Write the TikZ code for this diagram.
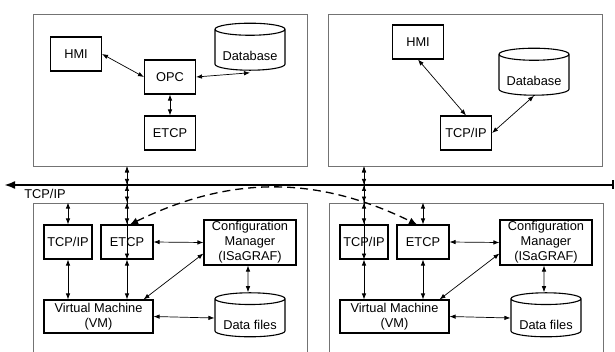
\documentclass[tikz,border=0pt]{standalone}
\usepackage{fontspec}
\setmainfont{Liberation Sans}
\usetikzlibrary{shapes.geometric,arrows.meta}

\newcommand{\drumtext}[1]{\raisebox{-11pt}[0pt][0pt]{#1}}

\tikzset{
	panel/.style={draw=black!55, line width=0.8pt, minimum width=274pt, inner sep=0pt},
	box/.style={draw, line width=1.1pt, align=center, inner sep=0pt, minimum width=51pt, minimum height=34pt},
	drum/.style={draw, line width=1.1pt, cylinder, shape border rotate=90, aspect=0.22, inner sep=0pt, minimum width=70pt, minimum height=47pt},
	link/.style={{Latex[length=6pt,width=4.5pt]}-{Latex[length=6pt,width=4.5pt]}, line width=0.7pt},
	bus/.style={line width=2.2pt, {Bar[width=9pt]}-{Latex[length=11pt,width=8pt]}}
}

\begin{document}
\begin{tikzpicture}[x=1pt, y=-1pt, font=\fontsize{12.8}{15}\selectfont]
		\useasboundingbox (0,0) rectangle (615,352);

		% upper stations
		\node[panel, minimum height=152pt] (opL) at (170,90) {};
		\node[panel, minimum height=152pt] (opR) at (465.5,90) {};
		\node[box] (hmiL) at (76,54) {HMI};
		\node[box] (opc) at (170,77) {OPC};
		\node[drum] (dbL) at (250,50) {\drumtext{Database}};
		\node[box] (etcpL) at (170,133) {ETCP};
		\node[box] (hmiR) at (418,42) {HMI};
		\node[drum] (dbR) at (534,75) {\drumtext{Database}};
		\node[box] (tcpR) at (466,133) {TCP/IP};

		\draw[link] (hmiL.east) -- (opc.west);
		\draw[link] (opc.east) -- ([yshift=-2pt]dbL.south);
		\draw[link] (opc.south) -- (etcpL.north);
		\draw[link] (hmiR.south) -- (tcpR.north);
		\draw[link] (dbR.south) -- (tcpR.east);

		% network
		\coordinate (busE) at (614,185);
		\coordinate (busW) at (4,185);
		\draw[bus] (busE) -- (busW);
		\node (net) at (45,194) {TCP/IP};

		% lower controllers
		\node[panel, minimum height=160pt] (ctL) at (170,283) {};
		\node[panel, minimum height=160pt] (ctR) at (466,283) {};
		\foreach \s/\dx in {L/0, R/296} {
			\node[box, minimum width=48pt] (tcp\s) at (68+\dx,242) {TCP/IP};
			\node[box, minimum width=52pt] (etcp\s) at (127+\dx,242) {ETCP};
			\node[box, minimum width=92pt, minimum height=45pt] (cfg\s) at (250+\dx,242.5) {Configuration\\Manager\\(ISaGRAF)};
			\node[box, minimum width=109pt, minimum height=33pt] (vm\s) at (98.5+\dx,316.5) {Virtual Machine\\(VM)};
			\node[drum, minimum height=44pt] (df\s) at (250+\dx,318) {\drumtext{Data files}};

			\draw[link] (tcp\s.north |- ct\s.north) -- (tcp\s.north);
			\draw[link] (etcp\s.north |- ct\s.north) -- (etcp\s.north);
			\draw[link] (tcp\s.south) -- (tcp\s.south |- vm\s.north);
			\draw[link] (etcp\s.south) -- (etcp\s.south |- vm\s.north);
			\draw[link] (etcp\s.east) -- (cfg\s.west);
			\draw[link] ([yshift=-11pt]cfg\s.west) -- ([xshift=-10pt]vm\s.north east);
			\draw[link] ([xshift=-2pt]cfg\s.south) -- ([xshift=-2pt]df\s.north);
			\draw[link] (vm\s.east) -- (df\s.west);
		}

		% drops to the bus
		\draw[link] (etcpL.south) -- (etcpL.south |- opL.south);
		\draw[link] (etcpL.south |- opL.south) -- (etcpL.south |- busW);
		\draw[link] (etcpL.south |- busW) -- (etcpL.south |- ctL.north);
		\draw[link] (tcpR.south) -- (tcpR.south |- opR.south);
		\draw[link] (tcpR.south |- opR.south) -- (tcpR.south |- busW);
		\draw[link] (tcpR.south |- busW) -- (tcpR.south |- ctR.north);

		\draw[line width=1.3pt, dash pattern=on 8pt off 5pt, {Latex[length=8pt,width=7pt]}-{Latex[length=8pt,width=7pt]}]
			([xshift=3pt]etcpL.north) to[bend left=26] ([xshift=-6pt]etcpR.north);
	\end{tikzpicture}
\end{document}
